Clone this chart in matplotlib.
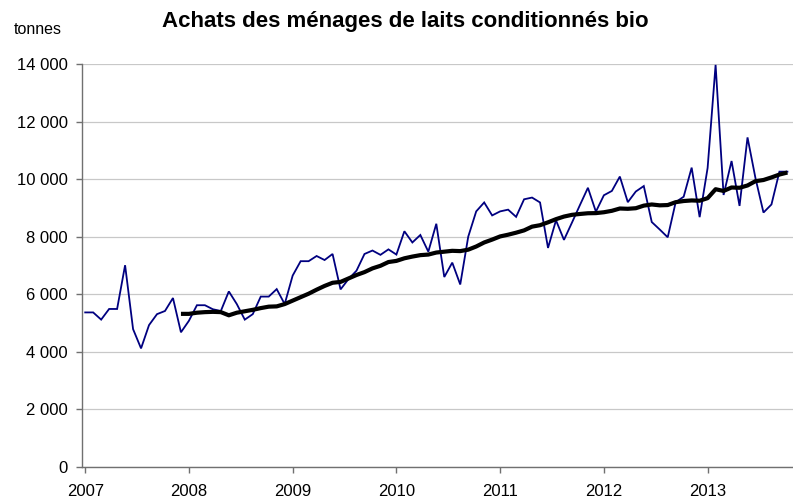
import matplotlib
matplotlib.use("Agg")
import matplotlib.pyplot as plt
from matplotlib.ticker import FuncFormatter, FixedLocator

plt.rcParams['font.family'] = ['Liberation Sans', 'DejaVu Sans']

# 4-week periods (13 per year), starting period 1 of 2007
purchases = [
    5370, 5370, 5120, 5490, 5490, 7010, 4790, 4120, 4930, 5310, 5420, 5870, 4680,   # 2007
    5080, 5620, 5620, 5480, 5420, 6100, 5660, 5120, 5310, 5920, 5920, 6180, 5660,   # 2008
    6650, 7150, 7150, 7330, 7190, 7400, 6170, 6530, 6820, 7400, 7520, 7370, 7560,   # 2009
    7380, 8190, 7800, 8060, 7480, 8450, 6600, 7100, 6340, 8000, 8880, 9190, 8740,   # 2010
    8880, 8940, 8690, 9300, 9360, 9190, 7610, 8570, 7890, 8490, 9100, 9700, 8870,   # 2011
    9440, 9590, 10090, 9200, 9570, 9760, 8510, 8250, 7980, 9200, 9390, 10400, 8680, # 2012
    10390, 13970, 9450, 10630, 9070, 11450, 10030, 8840, 9120, 10260, 10260,        # 2013
]

# moving average line (starts at the 13th period)
trend_start = 12
trend = [
    5320, 5320, 5360, 5380, 5390, 5380, 5270, 5360, 5410, 5460, 5520, 5570, 5580,
    5660, 5780, 5900, 6020, 6160, 6290, 6400, 6430, 6550, 6670, 6770, 6900, 6990,
    7120, 7160, 7250, 7310, 7360, 7380, 7450, 7480, 7510, 7500, 7550, 7660, 7800,
    7900, 8010, 8070, 8140, 8220, 8350, 8400, 8500, 8610, 8700, 8760, 8790, 8815,
    8820, 8850, 8900, 8980, 8970, 8990, 9080, 9120, 9090, 9100, 9200, 9240, 9260,
    9250, 9340, 9650, 9590, 9710, 9700, 9780, 9930, 9970, 10060, 10160, 10230,
]

years = ["2007", "2008", "2009", "2010", "2011", "2012", "2013"]
periods_per_year = 13
y_ticks = [0, 2000, 4000, 6000, 8000, 10000, 12000, 14000]

W, H = 793, 504
fig = plt.figure(figsize=(W / 100, H / 100), dpi=100)
ax = fig.add_axes([82 / W, 1 - 467 / H, (793 - 82) / W, (467 - 64) / H])

x_all = list(range(len(purchases)))
x_trend = list(range(trend_start, trend_start + len(trend)))

ax.plot(x_all, purchases, color="#000080", lw=1.3, solid_joinstyle="miter", zorder=3)
ax.plot(x_trend, trend, color="black", lw=3.0, solid_capstyle="butt", zorder=4)

ax.set_ylim(0, 14000)
ax.set_xlim(-0.4, 88.7)

ax.yaxis.set_major_locator(FixedLocator(y_ticks))
ax.yaxis.set_major_formatter(FuncFormatter(lambda v, p: f"{int(v):,}".replace(",", " ")))
ax.set_xticks([i * periods_per_year for i in range(len(years))])
ax.set_xticklabels(years)

ax.grid(axis="y", color="#c8c8c8", lw=0.9)
ax.set_axisbelow(True)
for s in ["top", "right"]:
    ax.spines[s].set_visible(False)
for s in ["left", "bottom"]:
    ax.spines[s].set_color("#707070")
    ax.spines[s].set_linewidth(1.0)

ax.tick_params(axis="both", colors="#707070", labelcolor="black", labelsize=12,
               length=4, width=1.0, direction="out")
ax.tick_params(axis="y", pad=6)
ax.tick_params(axis="x", pad=8)

fig.text(14 / W, 1 - 30 / H, "tonnes", fontsize=11.5, ha="left", va="center")
fig.text(405 / W, 1 - 22 / H, "Achats des ménages de laits conditionnés bio",
         fontsize=16, fontweight="bold", ha="center", va="center")

fig.savefig("out.png", dpi=100)
